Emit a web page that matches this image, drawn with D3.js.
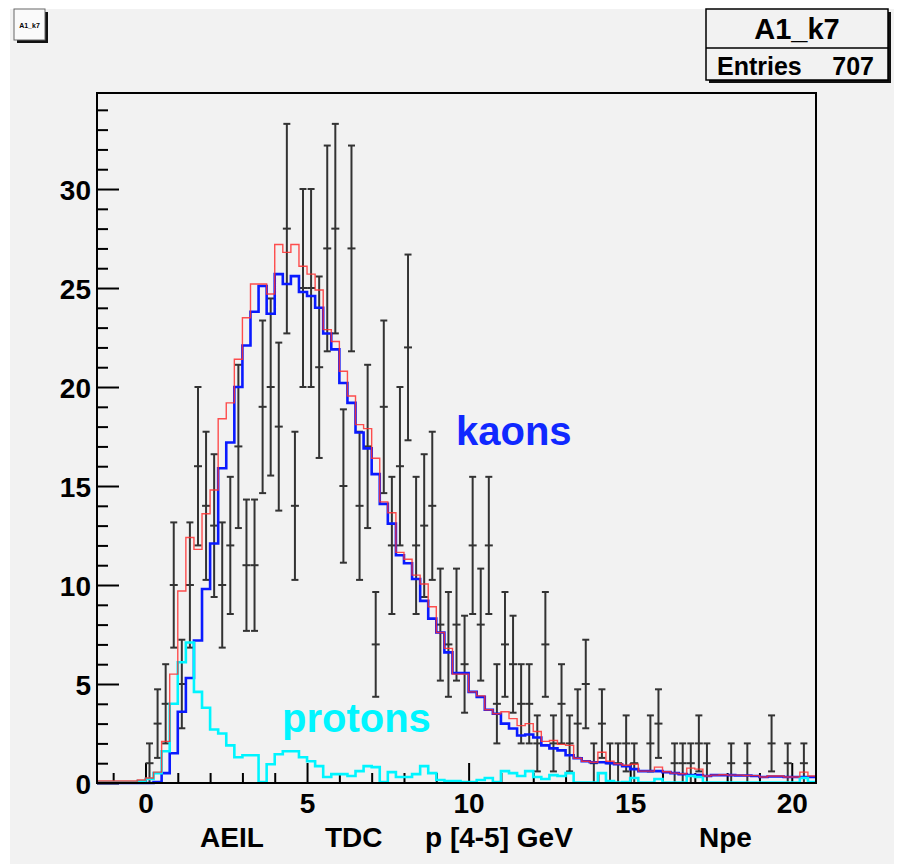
<!DOCTYPE html>
<html><head><meta charset="utf-8">
<script src="https://cdn.jsdelivr.net/npm/d3@7"></script>
<style>
body{margin:0;background:#fff}
svg{display:block}
text{font-family:"Liberation Sans",Arial,Helvetica,sans-serif;font-weight:bold}
</style>
</head><body>
<svg id="c" width="897" height="864"></svg>
<script>
// Histogram binning: 89 bins of width 0.25 starting at -1.5
const binLow = -1.5;
const binWidth = 0.25;

// Measured counts per bin (Poisson errors)
const dataCounts = [
  0,0,0,0,0,0,
  1,3,4,10,5,10,16,14,13,10,
  12,17,11,11,19,20,18,28,14,25,
  25,21,27,28,15,27,14,17,7,19,
  12,16,22,12,13,14,8,7,8,6,
  12,8,12,4,7,6,4,4,2,7,
  2,4,2,3,5,1,3,1,1,2,
  1,0,2,3,0,1,1,1,2,1,
  0,0,1,0,1,0,0,2,0,1,
  0,1,0
];

// Kaon template (fit)
const kaonFit = [
  0,0,0,0,0,0,
  0,0.05,0.5,1.5,3.6,5.3,7.2,9.8,12.1,15.9,
  17.2,20.0,22.1,23.8,25.1,23.7,25.7,25.2,25.6,24.8,
  24.6,24.0,22.7,21.9,20.2,19.2,17.7,16.9,15.6,14.1,
  13.1,11.5,11.1,10.3,9.2,8.3,7.6,6.6,5.55,5.55,
  4.6,4.35,3.7,3.5,3.0,2.75,2.4,2.45,2.3,1.9,
  1.75,1.65,1.4,1.25,1.1,1.05,1.05,1.0,0.95,0.85,
  0.7,0.6,0.6,0.6,0.55,0.5,0.45,0.4,0.4,0.35,
  0.4,0.4,0.4,0.38,0.38,0.35,0.3,0.33,0.33,0.3,
  0.3,0.3,0.3
];

// Proton template (fit)
const protonFit = [
  0.05,0.05,0.05,0.05,0.05,0.1,
  0.2,0.5,1.6,4.0,6.1,7.1,4.6,3.8,2.7,2.5,
  1.9,1.3,1.4,1.4,0.05,0.95,1.45,1.6,1.6,1.3,
  1.1,0.85,0.3,0.45,0.45,0.35,0.6,0.85,0.8,0.05,
  0.55,0.3,0.3,0.45,0.85,0.5,0.15,0.1,0.1,0.05,
  0.05,0.15,0.25,0.05,0.6,0.5,0.35,0.6,0.3,0.2,
  0.4,0.35,0.5,0.02,0.02,0.02,0.5,0.1,0.02,0.05,
  0.25,0.02,0.02,0.2,0.02,0.02,0.02,0.35,0.3,0.02,
  0.02,0.02,0.02,0.02,0.02,0.02,0.02,0.02,0.02,0.02,
  0.02,0.25,0.05
];

// Total fit (kaons + protons)
const totalFit = [
  0.1,0.1,0.1,0.1,0.1,0.15,
  0.25,0.55,2.1,5.5,9.7,12.4,11.8,13.6,14.8,18.4,
  19.2,21.4,23.5,25.2,25.2,24.7,27.2,26.8,27.2,26.1,
  25.7,24.9,22.9,22.3,20.8,19.55,18.1,17.9,16.4,14.2,
  13.65,11.65,11.3,10.5,10.05,8.9,7.6,6.8,5.5,5.5,
  4.6,4.4,3.7,3.5,3.6,3.25,2.9,3.0,2.6,2.1,
  2.15,1.95,1.9,1.25,1.1,1.05,1.55,1.1,0.97,0.9,
  0.95,0.6,0.6,0.8,0.57,0.5,0.47,0.75,0.7,0.35,
  0.4,0.42,0.4,0.4,0.38,0.37,0.3,0.35,0.35,0.3,
  0.3,0.55,0.35
];

const xTickLabels = [0, 5, 10, 15, 20];
const yTickLabels = [0, 5, 10, 15, 20, 25, 30];
const histName = "A1_k7";
const entries = 707;

const W = 897, H = 864;
const svg = d3.select("#c");

// canvas
svg.append("rect").attr("x",0).attr("y",0).attr("width",W).attr("height",H).attr("fill","#ffffff");
svg.append("rect").attr("x",10).attr("y",9).attr("width",884).attr("height",H-9).attr("fill","#f2f2f2");

const nBins = dataCounts.length;
const xMax = binLow + nBins*binWidth;
const x = d3.scaleLinear().domain([binLow, xMax]).range([97, 816]);
const y = d3.scaleLinear().domain([0, 34.85]).range([783, 93]);

const plot = svg.append("g");

// axes: ticks pointing inward
function styleAxis(g){
  g.select(".domain").remove();
  g.selectAll(".tick line").attr("stroke","#000").attr("stroke-width",2);
}
const xMinor = d3.range(-1, 21).filter(v => v % 5 !== 0);
plot.append("g").attr("transform",`translate(0,${y(0)})`)
  .call(d3.axisBottom(x).tickValues(xMinor).tickSize(-10).tickFormat(""))
  .call(styleAxis);
plot.append("g").attr("transform",`translate(0,${y(0)})`)
  .call(d3.axisBottom(x).tickValues(xTickLabels).tickSize(-20).tickPadding(0).tickFormat(d3.format("d")))
  .call(styleAxis)
  .call(g => g.selectAll(".tick text").attr("y",30).attr("dy",0).attr("font-size",28).attr("fill","#000").attr("font-family",null));

const yMinor = d3.range(1, 35).filter(v => v % 5 !== 0);
plot.append("g").attr("transform",`translate(${x(binLow)},0)`)
  .call(d3.axisLeft(y).tickValues(yMinor).tickSize(-11).tickFormat(""))
  .call(styleAxis);
plot.append("g").attr("transform",`translate(${x(binLow)},0)`)
  .call(d3.axisLeft(y).tickValues(yTickLabels).tickSize(-22).tickPadding(7).tickFormat(d3.format("d")))
  .call(styleAxis)
  .call(g => g.selectAll(".tick text").attr("x",-6).attr("dy","0.36em").attr("font-size",28).attr("fill","#000").attr("font-family",null));

// data points with error bars
const pts = dataCounts.map((n,i) => ({c: binLow + (i+0.5)*binWidth, n, e: Math.sqrt(n)})).filter(d => d.n > 0);
const eb = plot.append("g").attr("stroke","#333").attr("stroke-width",2).attr("fill","none");
pts.forEach(d => {
  const cx = x(d.c), top = y(d.n + d.e), bot = y(d.n - d.e), cy = y(d.n);
  eb.append("line").attr("x1",cx).attr("x2",cx).attr("y1",top).attr("y2",bot);
  eb.append("line").attr("x1",cx-3.5).attr("x2",cx+3.5).attr("y1",top).attr("y2",top);
  eb.append("line").attr("x1",cx-3.5).attr("x2",cx+3.5).attr("y1",bot).attr("y2",bot);
  eb.append("line").attr("x1",cx-4).attr("x2",cx+4).attr("y1",cy).attr("y2",cy);
});

// step histograms
function stepPath(vals){
  const p = vals.map((v,i) => [binLow + i*binWidth, v]);
  p.push([xMax, vals[vals.length-1]]);
  return d3.line().x(d => x(d[0])).y(d => y(d[1])).curve(d3.curveStepAfter)(p);
}
plot.append("path").attr("d",stepPath(kaonFit)).attr("fill","none").attr("stroke","#0a1aff").attr("stroke-width",2.6);
plot.append("path").attr("d",stepPath(protonFit)).attr("fill","none").attr("stroke","#00f5ff").attr("stroke-width",2.6);
plot.append("path").attr("d",stepPath(totalFit)).attr("fill","none").attr("stroke","#ff3030").attr("stroke-width",1.4).attr("stroke-opacity",0.85);

// frame
plot.append("rect").attr("x",x(binLow)).attr("y",y(34.85)).attr("width",x(xMax)-x(binLow)).attr("height",y(0)-y(34.85))
  .attr("fill","none").attr("stroke","#000").attr("stroke-width",2);

// labels
plot.append("text").attr("x",456).attr("y",445).attr("font-size",40).attr("fill","#1028ff").text("kaons");
plot.append("text").attr("x",282).attr("y",732).attr("font-size",40).attr("fill","#00f5ff").text("protons");

// axis title
const xt = svg.append("text").attr("y",847).attr("font-size",28).attr("fill","#000");
xt.append("tspan").attr("x",200).text("AEIL");
xt.append("tspan").attr("x",325).text("TDC");
xt.append("tspan").attr("x",425).text("p [4-5] GeV");
xt.append("tspan").attr("x",699).text("Npe");

// stats box
const sb = svg.append("g");
sb.append("rect").attr("x",709).attr("y",12).attr("width",182).attr("height",71).attr("fill","#111");
sb.append("rect").attr("x",706).attr("y",9).attr("width",182).attr("height",71).attr("fill","#f2f2f2").attr("stroke","#000").attr("stroke-width",1.5);
sb.append("line").attr("x1",706).attr("x2",888).attr("y1",48).attr("y2",48).attr("stroke","#000").attr("stroke-width",1.5);
sb.append("text").attr("x",797).attr("y",39).attr("text-anchor","middle").attr("font-size",29).text(histName);
sb.append("text").attr("x",717).attr("y",75).attr("font-size",25).text("Entries");
sb.append("text").attr("x",874).attr("y",75).attr("text-anchor","end").attr("font-size",25).text(entries);

// canvas title icon
const ic = svg.append("g");
ic.append("rect").attr("x",17).attr("y",12).attr("width",31).attr("height",31).attr("fill","#111");
ic.append("rect").attr("x",14).attr("y",9).attr("width",31).attr("height",31).attr("fill","#fafafa").attr("stroke","#666").attr("stroke-width",1);
ic.append("text").attr("x",29.5).attr("y",28).attr("text-anchor","middle").attr("font-size",7).attr("font-weight","normal").text(histName);
</script>
</body></html>
